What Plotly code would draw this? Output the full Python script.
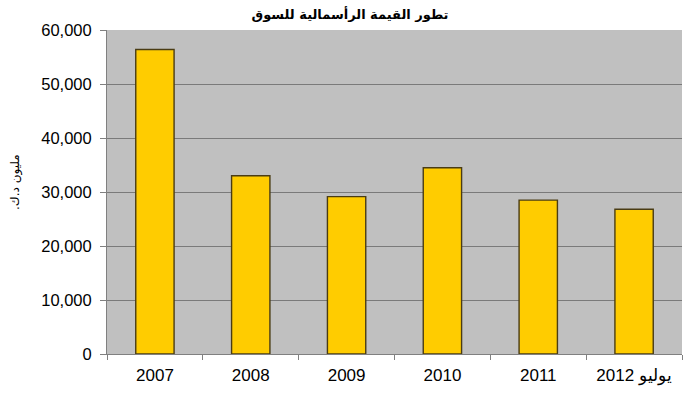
import plotly.graph_objects as go

categories = ["2007", "2008", "2009", "2010", "2011", "2012 يوليو"]
values = [56400, 33000, 29150, 34500, 28500, 26800]
y_ticks = [0, 10000, 20000, 30000, 40000, 50000, 60000]

title_text = "تطور القيمة الرأسمالية للسوق"
y_title = "\u202bمليون د.ك.\u202c"

fig = go.Figure(
    go.Bar(
        x=categories,
        y=values,
        marker=dict(color="#ffcc00", line=dict(color="#4a3c14", width=1.4)),
        width=0.4,
    )
)

fig.update_layout(
    width=700,
    height=393,
    margin=dict(l=107, r=18, t=30, b=39),
    paper_bgcolor="white",
    plot_bgcolor="#c0c0c0",
    showlegend=False,
    font=dict(family="Liberation Sans, Arial", color="black"),
    title=dict(
        text="<b>" + title_text + "</b>",
        x=0.5,
        xanchor="center",
        y=0.962,
        yanchor="middle",
        font=dict(size=13, family="DejaVu Sans, Noto Sans", color="black"),
    ),
    annotations=[
        dict(
            text=y_title,
            xref="paper",
            yref="paper",
            x=(15 - 107) / 575,
            y=(354 - 182) / 324,
            xanchor="center",
            yanchor="middle",
            textangle=-90,
            showarrow=False,
            font=dict(size=12, family="DejaVu Sans", color="black"),
        )
    ],
)

fig.update_xaxes(
    showline=True,
    linecolor="#808080",
    linewidth=1,
    ticks="outside",
    tickson="boundaries",
    ticklen=5,
    tickcolor="#808080",
    tickfont=dict(size=17),
    ticklabelstandoff=6,
    showgrid=False,
    automargin=False,
)

fig.update_yaxes(
    range=[0, 60000],
    tickvals=y_ticks,
    tickformat=",",
    showline=True,
    linecolor="#808080",
    linewidth=1,
    ticks="outside",
    ticklen=6,
    tickcolor="#808080",
    tickfont=dict(size=16.5),
    ticklabelstandoff=5,
    showgrid=True,
    gridcolor="#7a7a7a",
    gridwidth=1,
    zeroline=False,
    automargin=False,
)

fig.write_html("out.html")
